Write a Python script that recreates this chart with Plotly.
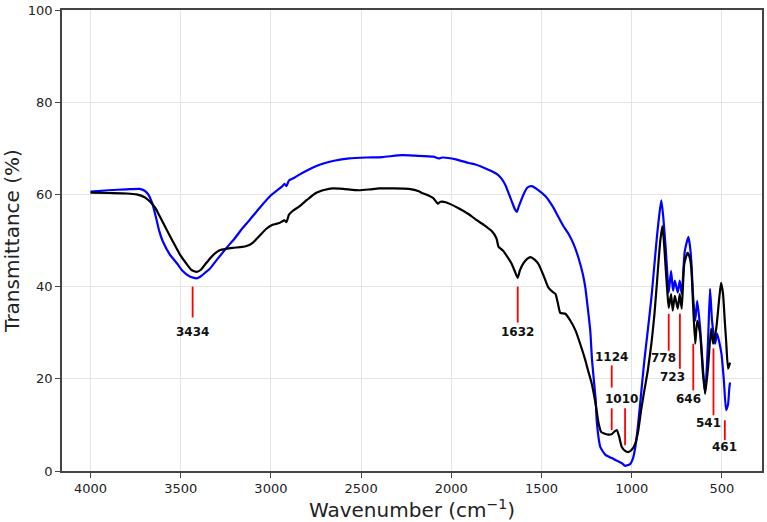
import plotly.graph_objects as go

# ---------------- data ----------------
black_wn = [4000, 3900, 3800, 3745, 3700, 3672, 3640, 3617, 3580, 3545, 3505, 3467, 3440, 3412, 3390,
            3365, 3340, 3310, 3284, 3250, 3212, 3160, 3135, 3101, 3064, 3027, 2991, 2953, 2925, 2914,
            2900, 2880, 2842, 2800, 2751, 2700, 2659, 2600, 2512, 2450, 2400, 2328, 2236, 2180, 2163,
            2140, 2100, 2075, 2060, 2031, 1960, 1903, 1866, 1820, 1775, 1750, 1738, 1725, 1711, 1690,
            1665, 1645, 1632, 1620, 1600, 1580, 1561, 1540, 1517, 1490, 1461, 1440, 1423, 1410, 1396,
            1368, 1340, 1312, 1285, 1257, 1240, 1222, 1200, 1184, 1170, 1156, 1130, 1110, 1095, 1083,
            1070, 1055, 1035, 1020, 1000, 980, 965, 948, 930, 911, 890, 874, 860, 850, 840, 830, 822,
            812, 803, 795, 782, 773, 761, 745, 734, 723, 709, 691, 680, 670, 660, 648, 637, 621, 605,
            593, 577, 560, 549, 531, 515, 505, 494, 485, 477, 466, 455]
black_t = [60.4, 60.3, 60.2, 60.0, 59.4, 58.5, 57.0, 55.3, 52.5, 49.9, 47.0, 44.9, 43.6, 43.2, 43.6,
           44.8, 46.0, 47.2, 47.9, 48.2, 48.4, 48.6, 48.8, 49.5, 51.0, 52.5, 53.4, 53.8, 54.4, 54.0,
           55.6, 56.4, 57.4, 58.8, 60.3, 61.0, 61.3, 61.2, 60.9, 61.1, 61.3, 61.3, 61.2, 60.7, 60.3,
           60.0, 59.2, 58.0, 58.4, 58.3, 57.0, 55.7, 54.6, 53.4, 52.0, 50.5, 48.6, 48.2, 47.7, 46.5,
           44.9, 43.0, 41.9, 43.5, 45.1, 46.0, 46.4, 45.9, 44.9, 42.5, 39.7, 38.9, 38.4, 36.5, 34.3,
           34.1, 32.6, 30.5, 27.5, 24.0, 21.5, 19.0, 14.5, 10.4, 8.5, 8.2, 7.9, 8.0, 8.6, 8.9,
           7.5, 5.2, 4.3, 4.1, 4.6, 6.0, 8.5, 13.2, 17.5, 21.8, 28.0, 34.1, 41.0, 46.2, 50.5, 53.1, 50.0,
           44.1, 39.0, 35.4, 38.4, 34.8, 38.0, 35.2, 38.4, 35.2, 44.9, 47.3, 46.5, 44.1, 36.0, 27.6, 32.6, 29.8, 21.0,
           16.8, 22.5, 30.9, 27.6, 31.1, 37.5, 40.8, 38.4, 33.0, 28.3, 22.2, 23.5]

blue_wn = [4000, 3900, 3800, 3727, 3700, 3680, 3660, 3640, 3620, 3600, 3561, 3520, 3489, 3450, 3413, 3390,
           3365, 3340, 3300, 3246, 3200, 3157, 3119, 3064, 3000, 2936, 2925, 2914, 2900, 2870, 2842,
           2800, 2751, 2700, 2650, 2566, 2470, 2383, 2273, 2200, 2100, 2069, 2050, 1975, 1903, 1866,
           1820, 1775, 1740, 1720, 1700, 1680, 1665, 1648, 1637, 1625, 1600, 1578, 1555, 1520, 1478,
           1440, 1405, 1380, 1350, 1320, 1295, 1270, 1257, 1240, 1230, 1220, 1210, 1200, 1193, 1174,
           1146, 1110, 1091, 1070, 1055, 1036, 1020, 1009, 995, 980, 965, 948, 930, 911, 890, 874,
           860, 847, 836, 825, 812, 803, 795, 782, 771, 761, 745, 734, 723, 706, 686, 678, 670, 660,
           648, 637, 621, 605, 593, 577, 566, 555, 538, 527, 515, 503, 490, 477, 466, 459, 455]
blue_t = [60.6, 60.9, 61.1, 61.2, 60.8, 60.0, 58.3, 55.5, 52.2, 49.9, 47.0, 45.0, 43.4, 42.2, 41.8, 42.2,
          43.0, 43.8, 45.8, 48.4, 50.5, 52.7, 54.4, 57.0, 59.8, 61.8, 62.3, 61.8, 63.0, 63.6, 64.3,
          65.2, 66.1, 66.8, 67.3, 67.8, 68.0, 68.1, 68.5, 68.4, 68.2, 67.8, 68.0, 67.6, 66.8, 66.5,
          65.8, 65.0, 64.2, 63.3, 62.0, 60.0, 58.5, 56.8, 56.2, 57.5, 60.0, 61.5, 61.8, 61.0, 59.6,
          57.5, 55.0, 53.2, 51.4, 49.0, 46.2, 42.5, 39.7, 34.1, 30.5, 24.0, 19.7, 15.5, 10.4, 5.2,
          3.5, 2.8, 2.4, 2.0, 1.7, 1.1, 1.3, 1.5, 2.5, 5.2, 10.0, 16.8, 24.0, 30.5, 38.0, 44.9,
          51.0, 55.7, 58.7, 55.0, 48.4, 43.0, 38.7, 43.4, 39.1, 41.3, 38.7, 41.3, 38.4, 47.7, 50.8, 49.0, 45.6, 38.0,
          32.6, 36.9, 31.1, 22.0, 16.8, 28.3, 39.5, 32.6, 27.6, 29.8, 28.0, 25.5, 20.0, 13.2, 14.5, 18.1, 19.2]

# peak annotations: label text, label position, marker line position and extent
ann_text = ["3434", "1632", "1124", "1010", "778", "723", "646", "541", "461"]
ann_text_x = [3434, 1636, 1112, 1057, 825, 775, 687, 576, 488]
ann_text_y = [30.2, 30.2, 24.8, 15.6, 24.6, 20.3, 15.6, 10.4, 5.2]
seg_x = [3434, 1632, 1111, 1111, 1037, 795, 733, 659, 547, 484]
seg_top = [40.0, 40.0, 22.9, 13.6, 13.6, 34.1, 34.1, 27.6, 26.6, 11.0]
seg_bottom = [33.3, 32.2, 18.1, 8.9, 5.6, 26.1, 22.2, 17.5, 12.1, 6.7]

x_ticks = [4000, 3500, 3000, 2500, 2000, 1500, 1000, 500]
y_ticks = [0, 20, 40, 60, 80, 100]

# ---------------- figure ----------------
fig = go.Figure()
fig.add_trace(go.Scatter(x=blue_wn, y=blue_t, mode="lines",
                         line=dict(color="#0000ff", width=2.2, shape="spline", smoothing=0.5),
                         showlegend=False, hoverinfo="skip"))
fig.add_trace(go.Scatter(x=black_wn, y=black_t, mode="lines",
                         line=dict(color="#000000", width=2.2, shape="spline", smoothing=0.5),
                         showlegend=False, hoverinfo="skip"))

for sx, st, sb in zip(seg_x, seg_top, seg_bottom):
    fig.add_shape(type="line", xref="x", yref="y", x0=sx, x1=sx, y0=st, y1=sb,
                  line=dict(color="#ff0000", width=1.8))

for t, tx, ty in zip(ann_text, ann_text_x, ann_text_y):
    fig.add_annotation(x=tx, y=ty, xref="x", yref="y", text="<b>%s</b>" % t, showarrow=False,
                       xanchor="center", yanchor="middle",
                       font=dict(family="DejaVu Sans", size=12, color="#111111"))

axis_common = dict(showline=True, mirror=True, linecolor="#444444", linewidth=1.5,
                   ticks="outside", ticklen=5, tickwidth=1.2, tickcolor="#444444",
                   showgrid=True, gridcolor="#e4e4e4", gridwidth=1, zeroline=False,
                   tickfont=dict(family="DejaVu Sans", size=13, color="#222222"))

fig.update_layout(
    width=767, height=522,
    margin=dict(l=62, r=3, t=8, b=51),
    paper_bgcolor="white", plot_bgcolor="white",
    xaxis=dict(range=[4158, 278], tickvals=x_ticks,
               title=dict(text="Wavenumber (cm<sup>\u22121</sup>)", standoff=0,
                          font=dict(family="DejaVu Sans", size=20, color="#222222")),
               **axis_common),
    yaxis=dict(range=[0, 100], tickvals=y_ticks,
               title=dict(text="Transmittance (%)", standoff=6,
                          font=dict(family="DejaVu Sans", size=20, color="#222222")),
               **axis_common),
)

fig.write_html("out.html")
